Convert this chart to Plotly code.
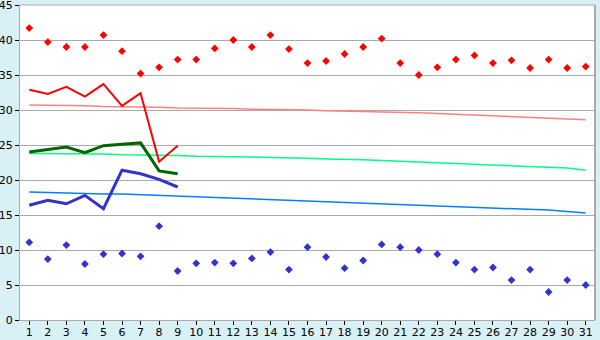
import plotly.graph_objects as go

days = list(range(1, 32))
day_labels = [str(d) for d in days]

record_max = [41.7, 39.7, 39.0, 39.0, 40.7, 38.4, 35.2, 36.1, 37.2, 37.2,
              38.8, 40.0, 39.0, 40.7, 38.7, 36.7, 37.0, 38.0, 39.0, 40.2,
              36.7, 35.0, 36.1, 37.2, 37.8, 36.7, 37.1, 36.0, 37.2, 36.0, 36.2]
record_min = [11.1, 8.7, 10.7, 8.0, 9.4, 9.5, 9.1, 13.4, 7.0, 8.1,
              8.2, 8.1, 8.8, 9.7, 7.2, 10.4, 9.0, 7.4, 8.5, 10.8,
              10.4, 10.0, 9.4, 8.2, 7.2, 7.5, 5.7, 7.2, 4.0, 5.7, 5.0]
normal_max = [30.7, 30.7, 30.6, 30.6, 30.5, 30.5, 30.4, 30.4, 30.3, 30.3,
              30.2, 30.2, 30.1, 30.1, 30.0, 30.0, 29.9, 29.9, 29.8, 29.7,
              29.7, 29.6, 29.5, 29.4, 29.3, 29.2, 29.1, 29.0, 28.9, 28.8, 28.6]
normal_mean = [23.8, 23.8, 23.7, 23.7, 23.7, 23.6, 23.6, 23.5, 23.5, 23.4,
               23.4, 23.3, 23.3, 23.2, 23.2, 23.1, 23.0, 23.0, 22.9, 22.8,
               22.7, 22.6, 22.5, 22.4, 22.3, 22.2, 22.1, 22.0, 21.8, 21.7, 21.4]
normal_min = [18.3, 18.2, 18.2, 18.1, 18.0, 18.0, 17.9, 17.8, 17.7, 17.7,
              17.6, 17.5, 17.4, 17.3, 17.2, 17.1, 17.0, 16.9, 16.8, 16.7,
              16.6, 16.5, 16.4, 16.3, 16.2, 16.1, 15.9, 15.8, 15.7, 15.5, 15.3]

obs_days = list(range(1, 10))
obs_max = [32.9, 32.3, 33.3, 31.9, 33.7, 30.6, 32.4, 22.6, 24.9]
obs_mean = [24.0, 24.4, 24.7, 23.9, 24.9, 25.1, 25.3, 21.3, 20.9]
obs_min = [16.4, 17.1, 16.6, 17.8, 15.9, 21.4, 20.9, 20.1, 19.0]

fig = go.Figure()

fig.add_trace(go.Scatter(x=days, y=normal_max, mode="lines",
                         line=dict(color="#ff8080", width=1.5)))
fig.add_trace(go.Scatter(x=days, y=normal_mean, mode="lines",
                         line=dict(color="#00ff80", width=1.5)))
fig.add_trace(go.Scatter(x=days, y=normal_min, mode="lines",
                         line=dict(color="#0080ff", width=1.5)))

fig.add_trace(go.Scatter(x=obs_days, y=obs_max, mode="lines",
                         line=dict(color="#ff0000", width=2)))
fig.add_trace(go.Scatter(x=obs_days, y=obs_mean, mode="lines",
                         line=dict(color="#006600", width=3)))
fig.add_trace(go.Scatter(x=obs_days, y=obs_min, mode="lines",
                         line=dict(color="#3333cc", width=3)))

fig.add_trace(go.Scatter(x=days, y=record_max, mode="markers",
                         marker=dict(symbol="diamond", size=6, color="#ff0000")))
fig.add_trace(go.Scatter(x=days, y=record_min, mode="markers",
                         marker=dict(symbol="diamond", size=6, color="#3333cc")))

fig.update_layout(
    width=600, height=340,
    margin=dict(l=20, r=5, t=5, b=20, autoexpand=False),
    paper_bgcolor="#d9f0f7",
    plot_bgcolor="#ffffff",
    showlegend=False,
    font=dict(family="DejaVu Sans", size=11, color="#000000"),
)
fig.update_xaxes(
    range=[0.5, 31.5], tickmode="array", tickvals=days, ticktext=day_labels,
    showgrid=False, zeroline=False, automargin=False,
    showline=True, linecolor="#aaaaaa", linewidth=1, mirror=False,
    ticks="outside", ticklen=4, tickcolor="#000000", tickwidth=1,
    ticklabelstandoff=-2, ticklabeloverflow="allow",
    tickfont=dict(size=11),
)
fig.update_yaxes(
    range=[0, 45], tickmode="linear", tick0=0, dtick=5,
    showgrid=True, gridcolor="#aaaaaa", gridwidth=1, zeroline=False, automargin=False,
    showline=True, linecolor="#aaaaaa", linewidth=1, mirror=False,
    ticks="outside", ticklen=4, tickcolor="#000000", tickwidth=1,
    ticklabeloverflow="allow",
    tickfont=dict(size=11),
)
# right and top border of the plot area
fig.add_shape(type="line", xref="paper", yref="paper", x0=1, x1=1, y0=0, y1=1,
              line=dict(color="#aaaaaa", width=2))
fig.add_shape(type="line", xref="paper", yref="paper", x0=0, x1=1, y0=1, y1=1,
              line=dict(color="#aaaaaa", width=1))

fig.write_html("out.html")
